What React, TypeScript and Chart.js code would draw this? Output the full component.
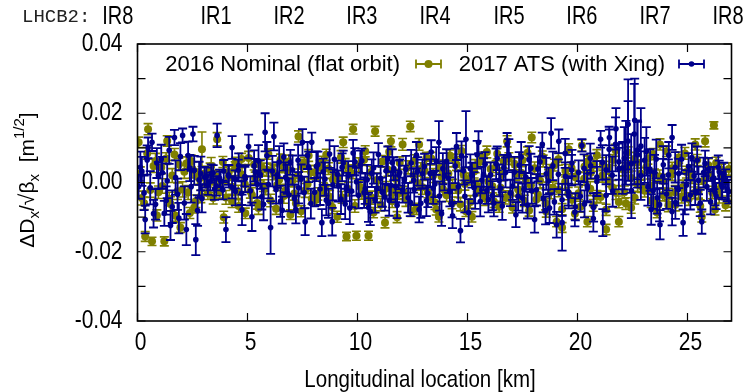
import React, { useEffect, useRef } from "react";
import { Chart, registerables } from "chart.js";
Chart.register(...registerables);

// values are in units of 1e-3 m^(1/2)
const UNIT = 0.001;

// first sweep of BPMs
const BPM_KM = [
  0.05, 0.2, 0.35, 0.48, 0.66, 0.82, 0.95,
  1.08, 1.22, 1.35, 1.5, 1.68, 1.82, 1.95,
  2.05, 2.22, 2.38, 2.52, 2.65, 2.8, 2.93,
  3.05, 3.2, 3.35, 3.5, 3.62, 3.78, 3.92,
  4.02, 4.15, 4.3, 4.45, 4.6, 4.75, 4.9,
  5.05, 5.2, 5.35, 5.5, 5.65, 5.8, 5.95,
  6.05, 6.2, 6.35, 6.5, 6.65, 6.8, 6.95,
  7.05, 7.2, 7.32, 7.5, 7.62, 7.78, 7.92,
  8.05, 8.2, 8.38, 8.52, 8.68, 8.85, 8.95,
  9.08, 9.25, 9.35, 9.5, 9.65, 9.8, 9.95,
  10.05, 10.2, 10.35, 10.5, 10.65, 10.8, 10.95,
  11.05, 11.25, 11.38, 11.52, 11.65, 11.8, 11.92,
  12.05, 12.2, 12.4, 12.55, 12.68, 12.8, 12.95,
  13.05, 13.2, 13.35, 13.52, 13.7, 13.82, 13.95,
  14.05, 14.2, 14.32, 14.5, 14.68, 14.82, 14.93,
  15.05, 15.2, 15.35, 15.5, 15.65, 15.8, 15.95,
  16.05, 16.2, 16.35, 16.5, 16.65, 16.8, 16.95,
  17.05, 17.2, 17.35, 17.5, 17.65, 17.8, 17.92,
  18.05, 18.2, 18.4, 18.55, 18.68, 18.8, 18.95,
  19.05, 19.15, 19.3, 19.45, 19.6, 19.75, 19.9,
  20.05, 20.2, 20.32, 20.45, 20.6, 20.72, 20.88,
  21.05, 21.15, 21.3, 21.45, 21.6, 21.75, 21.88,
  22.05, 22.2, 22.3, 22.45, 22.6, 22.72, 22.88,
  23.05, 23.2, 23.35, 23.5, 23.62, 23.75, 23.9,
  24.05, 24.15, 24.3, 24.45, 24.6, 24.8, 24.95,
  25.05, 25.2, 25.35, 25.5, 25.65, 25.8, 25.95,
  26.05, 26.2, 26.25, 26.4, 26.55, 26.65, 26.8,
];

const DX_2016 = [
  11.6, -4.5, -15.6, 15.4, -17.0, 6.2, -2.8,
  4.3, -17.0, 12.0, -6.2, 8.1, -2.5, -13.0,
  -2.0, 5.5, -8.8, 3.6, -5.4, 1.2, 9.6,
  2.6, -3.1, 4.8, 0.9, 12.5, -1.6, -10.0,
  -4.3, 3.0, -1.2, 5.7, -6.8, 2.3, -8.9,
  7.1, -3.6, 1.4, -7.4, 4.4, -1.8, 8.2,
  -5.2, 2.8, -0.7, 6.6, -3.9, 3.4, -9.3,
  0.6, -6.0, 13.3, 4.9, -2.3, 7.8, -4.7,
  2.9, -3.3, 6.0, -1.0, 4.0, -7.1, 1.8,
  -9.9, 7.4, 11.6, -15.6, 3.2, 15.4, -15.4,
  5.1, -3.0, 9.0, -15.4, -4.4, 14.8, -2.1,
  -6.4, -11.6, 3.7, 11.9, -2.6, -10.0, 5.6,
  11.0, -4.9, 16.2, 2.1, -7.6, 11.0, -1.4,
  3.3, -2.8, 6.9, -5.8, -9.9, 1.7, 4.6,
  -3.7, 7.8, -1.1, 5.2, -6.3, 2.4, -8.3,
  1.0, -9.9, 4.7, -2.0, 7.2, -4.6, 0.3,
  3.9, -5.5, 8.3, -1.5, 5.9, 11.9, -3.4,
  -7.2, 2.5, -3.9, 6.4, 0.8, -8.1, 13.0,
  4.1, -3.5, 7.5, -6.0, 1.9, -2.7, 5.0,
  -11.3, -2.2, -13.0, 3.4, 9.6, -5.0, 1.5,
  -3.1, 10.7, 4.6, -11.3, 2.8, -6.6, 7.9,
  -4.2, 5.3, -13.6, 0.6, 6.5, -2.9, -11.3,
  3.8, -6.1, 8.7, 1.3, -4.4, 5.8, -1.0,
  -2.4, 6.9, -5.3, 2.2, -8.7, 11.0, 0.4,
  9.0, -3.6, 4.1, -6.4, 7.2, -1.3, 3.0,
  -4.8, 1.4, 11.0, -2.5, -9.9, 11.9, 5.0,
  2.2, 16.5, -7.8, -2.1, 3.6, 0.3, -5.5,
];

const ERR_2016 = [
  1.5, 2.0, 1.4, 1.6, 1.2, 2.2, 1.8,
  1.8, 1.3, 1.5, 2.1, 1.7, 2.4, 1.4,
  2.2, 1.9, 1.6, 2.3, 1.8, 2.0, 5.0,
  2.1, 1.8, 2.4, 1.6, 1.9, 2.0, 1.7,
  2.0, 1.7, 2.2, 1.6, 1.8, 2.0, 1.5,
  1.9, 2.1, 1.6, 1.8, 2.3, 1.7, 1.5,
  1.8, 2.0, 1.7, 1.6, 2.1, 1.9, 1.4,
  1.7, 1.9, 1.6, 1.8, 2.0, 1.7, 1.5,
  2.0, 1.8, 1.6, 2.2, 1.7, 1.9, 1.6,
  1.6, 1.8, 1.5, 1.2, 1.9, 1.4, 1.3,
  2.0, 1.8, 1.6, 1.3, 1.9, 1.4, 1.9,
  1.8, 1.5, 1.9, 1.6, 2.1, 1.6, 1.8,
  1.7, 2.0, 1.5, 1.8, 1.6, 1.7, 2.0,
  1.9, 1.6, 1.8, 2.0, 1.5, 1.7, 1.9,
  1.8, 1.6, 2.0, 1.7, 1.9, 1.8, 1.5,
  1.7, 1.5, 1.9, 1.8, 1.6, 2.0, 1.7,
  1.9, 1.7, 1.5, 2.0, 1.8, 1.6, 1.9,
  1.6, 1.9, 1.7, 1.8, 2.0, 1.6, 1.5,
  1.8, 1.7, 1.6, 1.9, 1.8, 2.0, 1.7,
  1.5, 1.9, 1.4, 1.8, 1.6, 1.7, 2.0,
  1.8, 1.6, 1.7, 1.5, 1.9, 1.7, 1.6,
  1.7, 1.9, 1.5, 1.8, 1.6, 2.0, 1.5,
  1.9, 1.7, 1.6, 2.0, 1.8, 1.7, 1.9,
  1.8, 1.6, 1.9, 1.7, 1.5, 1.6, 2.0,
  1.5, 1.9, 1.7, 1.8, 1.6, 2.0, 1.7,
  1.8, 1.7, 1.6, 2.0, 1.5, 1.6, 1.9,
  1.8, 1.0, 1.6, 1.9, 1.7, 1.8, 1.6,
];

const DX_2017 = [
  -1.2, 3.2, -10.7, 10.0, 11.6, -6.3, 2.1,
  6.8, -8.9, 0.5, -12.4, 13.0, -3.4, 7.5,
  13.6, -13.6, 4.2, 14.0, -16.5, 0.8, -4.6,
  1.5, -0.8, 2.6, -1.9, 13.6, 0.4, 3.3,
  -13.6, 1.8, 10.1, -2.6, 4.9, -7.9, 1.1,
  10.4, -9.9, 3.0, 6.2, -4.1, 14.5, -0.6,
  -13.0, 13.3, 2.2, -5.4, 7.4, 0.9, 5.8,
  3.6, -7.8, -1.5, 11.6, -11.3, 4.5, 11.6,
  -2.8, 5.2, -11.6, 1.0, -6.0, -11.3, 6.7,
  2.4, -4.8, 5.6, -1.3, -7.4, 8.5, 0.2,
  -3.7, 6.3, -1.8, -7.2, 2.7, -5.0, 8.1,
  1.2, -4.2, 6.8, -0.9, 4.0, -6.6, 2.9,
  -2.2, 3.8, -5.7, 0.6, 7.9, -7.8, 2.5,
  4.6, -3.1, 8.8, -0.4, 11.6, -9.0, 1.9,
  6.1, -2.7, -9.6, 10.4, -13.9, 3.4, 12.5,
  -8.7, 2.1, -3.6, 11.6, 0.7, 5.3, -4.9,
  2.2, -5.9, 7.0, -1.7, 4.3, 11.0, -3.0,
  -1.0, -9.3, 5.0, -4.5, 1.6, 6.6, -2.4,
  -10.7, 3.9, 11.0, -8.1, 0.4, 14.2, -5.6,
  -12.2, 11.9, -11.6, 1.8, -3.9, 5.6, -7.0,
  2.9, 10.7, -6.2, -1.6, 4.8, -10.4, 0.3,
  12.5, -11.6, 3.7, 13.0, -2.5, 15.5, 6.0,
  4.2, 8.6, 16.8, -2.3, 18.0, 9.4, 2.0,
  6.4, -1.2, -7.8, 3.0, -4.4, -12.2, 5.1,
  -3.3, 7.9, 13.0, -5.8, 2.6, -11.6, -0.8,
  4.6, 7.2, -2.9, 0.6, -11.3, 5.5, 3.8,
  -5.6, 1.3, -2.8, 4.4, -0.7, 2.6, -1.9,
];

const ERR_2017 = [
  3.5, 4.2, 4.0, 3.0, 2.5, 4.4, 3.8,
  4.1, 3.6, 5.0, 4.2, 2.2, 4.5, 3.9,
  2.0, 4.5, 3.8, 2.1, 4.5, 5.2, 4.0,
  3.0, 2.8, 2.6, 3.1, 3.4, 2.7, 3.2,
  3.6, 3.2, 3.3, 4.0, 3.5, 4.4, 3.9,
  3.4, 4.1, 3.8, 4.6, 3.7, 5.5, 4.0,
  7.6, 4.0, 3.7, 4.5, 3.9, 4.2, 3.6,
  4.2, 4.0, 4.5, 3.8, 3.9, 4.4, 2.8,
  4.1, 3.7, 3.9, 4.8, 4.2, 4.0, 3.8,
  3.9, 4.3, 3.6, 4.1, 4.6, 3.8, 4.0,
  3.8, 3.5, 4.4, 4.2, 4.0, 3.7, 3.3,
  3.4, 3.9, 3.6, 4.0, 3.3, 3.7, 3.8,
  3.6, 3.9, 4.0, 3.5, 3.8, 3.7, 4.1,
  3.7, 4.0, 3.4, 3.8, 6.1, 3.5, 4.2,
  3.5, 4.2, 3.6, 3.9, 3.4, 4.0, 8.1,
  3.9, 3.6, 4.0, 3.2, 3.8, 3.5, 3.7,
  3.6, 3.9, 3.4, 4.1, 3.7, 3.3, 3.8,
  4.0, 3.6, 3.8, 4.2, 3.5, 3.9, 3.7,
  3.8, 3.6, 3.4, 4.0, 3.9, 4.4, 3.7,
  3.7, 3.4, 8.1, 4.0, 3.6, 3.8, 3.9,
  3.5, 1.8, 3.9, 4.1, 3.6, 3.8, 4.2,
  2.4, 3.9, 4.2, 2.3, 4.5, 6.0, 5.2,
  7.5, 9.2, 13.0, 8.0, 12.0, 8.5, 7.0,
  6.5, 5.5, 4.4, 5.0, 4.6, 4.2, 5.4,
  4.3, 3.8, 3.6, 4.7, 4.2, 3.8, 4.4,
  3.9, 4.1, 3.6, 4.0, 3.5, 3.7, 3.3,
  3.6, 3.2, 3.8, 3.4, 3.7, 3.1, 3.5,
];

// second sweep of BPMs (interleaved)
const BPM_KM_2 = [
  0.13, 0.3, 0.44, 0.58, 0.73, 0.88,
  1.13, 1.3, 1.44, 1.58, 1.73, 1.88,
  2.13, 2.3, 2.44, 2.58, 2.73, 2.88,
  3.13, 3.3, 3.44, 3.58, 3.73, 3.88,
  4.13, 4.3, 4.44, 4.58, 4.73, 4.88,
  5.13, 5.3, 5.44, 5.58, 5.73, 5.88,
  6.13, 6.3, 6.44, 6.58, 6.73, 6.88,
  7.13, 7.3, 7.44, 7.58, 7.73, 7.88,
  8.13, 8.3, 8.44, 8.58, 8.73, 8.88,
  9.13, 9.3, 9.44, 9.58, 9.73, 9.88,
  10.13, 10.3, 10.44, 10.58, 10.73, 10.88,
  11.13, 11.3, 11.44, 11.58, 11.73, 11.88,
  12.13, 12.3, 12.44, 12.58, 12.73, 12.88,
  13.13, 13.3, 13.44, 13.58, 13.73, 13.88,
  14.13, 14.3, 14.44, 14.58, 14.73, 14.88,
  15.13, 15.3, 15.44, 15.58, 15.73, 15.88,
  16.13, 16.3, 16.44, 16.58, 16.73, 16.88,
  17.13, 17.3, 17.44, 17.58, 17.73, 17.88,
  18.13, 18.3, 18.44, 18.58, 18.73, 18.88,
  19.13, 19.3, 19.44, 19.58, 19.73, 19.88,
  20.13, 20.3, 20.44, 20.58, 20.73, 20.88,
  21.13, 21.3, 21.44, 21.58, 21.73, 21.88,
  22.13, 22.3, 22.44, 22.58, 22.73, 22.88,
  23.13, 23.3, 23.44, 23.58, 23.73, 23.88,
  24.13, 24.3, 24.44, 24.58, 24.73, 24.88,
  25.13, 25.3, 25.44, 25.58, 25.73, 25.88,
  26.13, 26.3, 26.44, 26.58, 26.73, 26.88,
];

const DX_2016_2 = [
  2.5, -6.0, 8.4, -2.2, 4.8, -9.5,
  -1.0, 6.9, -4.7, 2.0, -9.6, 5.2,
  3.1, -2.9, 6.2, -7.2, 1.7, -4.0,
  -0.6, 3.8, -4.5, 1.6, -2.4, 5.9,
  1.4, -5.5, 4.0, -2.7, 6.8, -0.5,
  -2.6, 5.2, -5.9, 2.5, -0.9, 3.7,
  3.5, -7.6, 0.8, 4.9, -2.4, 6.1,
  -3.2, 2.1, -8.3, 5.6, -0.4, 3.0,
  -5.0, 4.5, -2.0, 8.0, -4.1, 0.9,
  1.6, -4.3, 5.0, -1.9, 2.7, -6.8,
  -1.3, 6.6, -5.7, 2.9, -8.7, 0.7,
  6.1, -1.7, 8.9, -5.4, 1.1, -3.2,
  -2.9, 4.4, -8.2, 6.3, -0.2, 3.9,
  7.0, -4.1, 2.0, -7.8, 4.2, -1.9,
  2.6, -5.9, 6.4, -2.3, 9.1, -0.4,
  -5.6, 3.2, -1.0, 6.0, -3.4, 8.8,
  -1.1, 4.6, -7.0, 2.4, -4.3, 6.9,
  5.4, -2.0, 2.8, -5.3, 8.6, -0.8,
  -4.9, 0.5, 6.2, -8.4, 3.3, -1.6,
  6.7, -7.7, 0.2, -3.2, 4.2, -9.0,
  -7.0, 1.1, 6.0, -1.8, 5.0, -4.0,
  2.0, -7.9, 4.3, -1.4, 9.3, -5.6,
  -2.8, 4.6, -7.3, 6.8, -0.6, 2.5,
  4.4, -0.9, 8.2, -6.0, 1.7, -3.6,
  -6.6, 2.3, -2.8, 5.5, -4.1, 8.4,
  3.2, -3.0, 6.5, -6.8, 0.5, 2.8,
  -2.9, 5.6, -4.0, 1.1, -6.6, 3.9,
];

const ERR_2016_2 = [
  2.0, 1.8, 1.7, 2.1, 1.9, 1.6,
  2.1, 1.7, 1.9, 2.0, 1.6, 1.8,
  1.9, 2.0, 1.7, 1.6, 2.2, 1.8,
  2.0, 1.8, 1.7, 1.9, 2.1, 1.6,
  1.8, 1.7, 2.0, 1.9, 1.6, 2.1,
  1.9, 1.6, 1.8, 2.0, 1.7, 1.9,
  1.8, 1.6, 2.0, 1.7, 1.9, 1.8,
  1.9, 1.8, 1.6, 1.7, 2.0, 1.9,
  1.7, 1.9, 2.0, 1.6, 1.8, 1.9,
  1.8, 1.7, 1.9, 2.0, 1.6, 1.8,
  1.9, 1.7, 1.6, 1.8, 1.5, 2.0,
  1.7, 2.0, 1.6, 1.8, 1.9, 1.7,
  1.8, 1.9, 1.6, 1.7, 2.0, 1.8,
  1.7, 1.8, 2.0, 1.6, 1.9, 1.7,
  1.9, 1.7, 1.8, 2.0, 1.6, 1.8,
  1.8, 1.9, 1.7, 1.6, 2.0, 1.7,
  1.9, 1.7, 1.6, 1.8, 1.9, 1.7,
  1.7, 1.9, 1.8, 1.6, 1.7, 2.0,
  1.8, 2.0, 1.7, 1.6, 1.9, 1.8,
  1.7, 1.6, 2.0, 1.8, 1.7, 1.6,
  1.6, 1.9, 1.7, 2.0, 1.8, 1.7,
  1.9, 1.6, 1.8, 2.0, 1.7, 1.7,
  1.8, 1.7, 1.6, 1.9, 2.0, 1.8,
  1.7, 1.9, 1.6, 1.8, 1.9, 1.7,
  1.8, 1.7, 1.9, 1.6, 1.8, 1.7,
  1.9, 1.7, 1.6, 1.8, 2.0, 1.7,
  1.8, 1.7, 1.9, 1.7, 1.6, 1.8,
];

const DX_2017_2 = [
  4.4, -3.0, 6.5, -1.5, -9.0, 5.6,
  2.8, -5.2, 9.3, -7.0, 1.4, -10.3,
  -5.9, 7.8, -1.2, 3.5, -8.1, 2.6,
  1.9, 0.3, 2.8, -1.0, 1.2, -2.2,
  2.2, -1.4, 0.9, 3.6, -3.1, 1.7,
  -2.4, 4.8, -0.5, 2.3, -6.3, 7.7,
  3.3, -2.0, 5.9, -8.0, 1.5, -3.6,
  -4.6, 6.4, 1.0, -2.9, 7.8, -6.1,
  4.7, -1.9, 3.1, -5.1, 8.2, -0.7,
  -1.0, 4.4, -6.2, 2.0, -2.5, 6.0,
  5.1, -2.9, 0.8, -8.4, 4.2, -1.6,
  -2.8, 3.4, -5.2, 5.8, -1.1, 2.2,
  0.9, -4.4, 5.6, -2.0, 3.2, -6.0,
  -5.3, 2.6, -1.6, 6.2, -3.9, 4.0,
  1.3, -6.1, 4.8, -1.2, 7.7, -4.0,
  4.0, -1.5, 8.0, -5.5, 2.4, -2.3,
  -3.8, 5.4, 0.6, -6.8, 2.9, 8.0,
  3.0, -4.0, 7.4, -1.9, -6.5, 4.1,
  -2.1, 6.0, -4.6, 2.5, -7.4, 4.8,
  2.4, -5.0, 8.4, -2.7, 3.6, -8.6,
  -4.0, 4.1, -0.9, 7.0, -7.2, 1.6,
  5.8, -3.7, 9.6, 2.1, 11.0, 4.0,
  7.0, 12.0, 5.5, 14.0, 8.0, 10.5,
  9.0, 3.6, -2.4, 6.8, -6.4, 1.8,
  2.2, -8.4, 4.4, -2.0, 6.7, -4.6,
  -3.6, 1.9, 6.4, -5.9, 2.9, -1.2,
  1.0, -3.9, 3.1, -1.3, 0.5, -2.6,
];

const ERR_2017_2 = [
  4.5, 5.0, 4.2, 4.8, 4.0, 4.3,
  4.6, 4.1, 3.9, 4.7, 5.0, 4.4,
  4.8, 4.0, 4.6, 4.2, 4.4, 4.9,
  2.4, 2.6, 2.2, 2.8, 2.5, 2.7,
  2.9, 3.2, 2.6, 3.0, 3.4, 2.8,
  4.2, 4.5, 3.9, 4.1, 4.6, 4.0,
  4.4, 4.1, 4.6, 3.9, 4.3, 4.7,
  4.0, 4.5, 4.2, 4.6, 3.9, 4.3,
  4.3, 4.6, 3.8, 4.4, 4.0, 4.5,
  4.5, 4.0, 4.4, 4.2, 4.6, 3.9,
  4.1, 4.4, 4.3, 3.9, 4.5, 4.2,
  4.2, 4.0, 4.4, 3.8, 4.6, 4.1,
  4.0, 4.3, 3.8, 4.5, 4.1, 4.2,
  4.4, 4.1, 4.6, 4.0, 4.2, 4.5,
  4.3, 4.0, 5.0, 4.4, 4.2, 4.6,
  4.1, 4.5, 4.0, 4.3, 4.6, 3.9,
  4.2, 4.4, 4.6, 4.0, 4.3, 4.5,
  4.4, 4.1, 4.3, 4.6, 3.9, 4.2,
  4.5, 4.2, 4.0, 4.6, 4.3, 4.1,
  4.3, 4.6, 4.2, 4.0, 4.4, 4.1,
  4.4, 4.0, 4.5, 4.2, 4.1, 4.6,
  5.0, 4.6, 6.5, 5.4, 7.8, 6.0,
  9.0, 11.5, 8.5, 14.5, 9.5, 11.0,
  7.0, 6.0, 5.2, 5.6, 4.8, 5.0,
  4.5, 4.0, 4.4, 4.7, 4.2, 4.6,
  4.2, 4.4, 4.0, 3.8, 4.3, 4.1,
  3.5, 3.8, 3.2, 3.6, 3.3, 3.4,
];

const SERIES_NAMES = ["2016 Nominal (flat orbit)", "2017 ATS (with Xing)"];
const SERIES_COLORS = ["#808000", "#00008b"];

const X_TICKS = [0, 5, 10, 15, 20, 25];
const Y_TICKS = [-0.04, -0.02, 0, 0.02, 0.04];
const Y_MINOR = [-0.04, -0.03, -0.02, -0.01, 0, 0.01, 0.02, 0.03, 0.04];

const IR_NAMES = ["IR8", "IR1", "IR2", "IR3", "IR4", "IR5", "IR6", "IR7", "IR8"];
const IR_KM = [-0.9, 3.57, 6.89, 10.2, 13.52, 16.89, 20.2, 23.52, 26.84];

const SANS = "'Liberation Sans', Arial, sans-serif";

function stretchText(ctx: CanvasRenderingContext2D, t: string, x: number, y: number, sy: number) {
  ctx.save();
  ctx.translate(x, y);
  ctx.scale(1, sy);
  ctx.fillText(t, 0, 0);
  ctx.restore();
}

const errorBarPlugin = {
  id: "errorBars",
  beforeDatasetDraw(chart: any, args: any) {
    const ds = chart.data.datasets[args.index];
    const errs: number[] = ds.errors;
    if (!errs) return;
    const y = chart.scales.y;
    const ctx = chart.ctx;
    const area = chart.chartArea;
    ctx.save();
    ctx.beginPath();
    ctx.rect(area.left, area.top, area.right - area.left, area.bottom - area.top);
    ctx.clip();
    ctx.strokeStyle = ds.borderColor;
    ctx.lineWidth = ds.barWidth;
    const cap = 4.5;
    args.meta.data.forEach((el: any, i: number) => {
      const v = ds.data[i].y;
      const top = y.getPixelForValue(v + errs[i]);
      const bot = y.getPixelForValue(v - errs[i]);
      ctx.beginPath();
      ctx.moveTo(el.x, top);
      ctx.lineTo(el.x, bot);
      ctx.moveTo(el.x - cap, top);
      ctx.lineTo(el.x + cap, top);
      ctx.moveTo(el.x - cap, bot);
      ctx.lineTo(el.x + cap, bot);
      ctx.stroke();
    });
    ctx.restore();
  },
};

const decorPlugin = {
  id: "decor",
  afterDraw(chart: any) {
    const ctx = chart.ctx as CanvasRenderingContext2D;
    const a = chart.chartArea;
    const xs = chart.scales.x;
    const ys = chart.scales.y;
    ctx.save();
    // frame
    ctx.strokeStyle = "#000";
    ctx.lineWidth = 1.6;
    ctx.strokeRect(a.left, a.top, a.right - a.left, a.bottom - a.top);
    // inward ticks
    ctx.lineWidth = 1.2;
    const tl = 8;
    ctx.beginPath();
    Y_MINOR.forEach((v) => {
      const p = ys.getPixelForValue(v);
      ctx.moveTo(a.left, p);
      ctx.lineTo(a.left + tl, p);
      ctx.moveTo(a.right, p);
      ctx.lineTo(a.right - tl, p);
    });
    X_TICKS.forEach((v) => {
      const p = xs.getPixelForValue(v);
      ctx.moveTo(p, a.bottom);
      ctx.lineTo(p, a.bottom - tl);
      ctx.moveTo(p, a.top);
      ctx.lineTo(p, a.top + tl);
    });
    ctx.stroke();

    ctx.fillStyle = "#000";
    // tick labels
    ctx.font = `21px ${SANS}`;
    ctx.textBaseline = "middle";
    ctx.textAlign = "right";
    Y_TICKS.forEach((v) => {
      const s = Math.abs(v) < 1e-9 ? "0.00" : v.toFixed(2);
      stretchText(ctx, s, a.left - 15, ys.getPixelForValue(v), 1.2);
    });
    ctx.textAlign = "center";
    X_TICKS.forEach((v) => {
      stretchText(ctx, String(v), xs.getPixelForValue(v) + 3, a.bottom + 22, 1.2);
    });

    // x title
    ctx.font = `20.5px ${SANS}`;
    ctx.textAlign = "center";
    ctx.textBaseline = "alphabetic";
    stretchText(ctx, "Longitudinal location [km]", 420, 387, 1.15);

    // top labels
    ctx.font = `19px 'Liberation Mono', 'DejaVu Sans Mono', monospace`;
    ctx.textAlign = "left";
    ctx.fillStyle = "#222";
    ctx.fillText("LHCB2:", 22, 22);
    ctx.fillStyle = "#000";
    ctx.font = `20px ${SANS}`;
    ctx.textAlign = "center";
    IR_NAMES.forEach((n, i) => {
      stretchText(ctx, n, xs.getPixelForValue(IR_KM[i]), 24, 1.3);
    });

    // y title
    ctx.save();
    ctx.translate(34, 180);
    ctx.rotate(-Math.PI / 2);
    const parts = [
      { t: "\u0394D", s: 21, dy: 0 },
      { t: "x", s: 15, dy: 5 },
      { t: "/\u221A\u03B2", s: 21, dy: 0 },
      { t: "x", s: 15, dy: 5 },
      { t: "  [m", s: 21, dy: 0 },
      { t: "1/2", s: 15, dy: -10 },
      { t: "]", s: 21, dy: 0 },
    ];
    let total = 0;
    parts.forEach((p) => {
      ctx.font = `${p.s}px ${SANS}`;
      total += ctx.measureText(p.t).width;
    });
    let cx = -total / 2;
    ctx.textAlign = "left";
    parts.forEach((p) => {
      ctx.font = `${p.s}px ${SANS}`;
      ctx.fillText(p.t, cx, p.dy);
      cx += ctx.measureText(p.t).width;
    });
    ctx.restore();

    // legend
    const legendY = 64;
    const entries = [
      { textRight: 400, s0: 416, s1: 441, r: 4 },
      { textRight: 665, s0: 679, s1: 704, r: 2.8 },
    ];
    entries.forEach((e, i) => {
      ctx.font = `22px ${SANS}`;
      ctx.textAlign = "right";
      ctx.textBaseline = "middle";
      ctx.fillStyle = "#000";
      ctx.fillText(SERIES_NAMES[i], e.textRight, legendY + 1);
      ctx.strokeStyle = SERIES_COLORS[i];
      ctx.fillStyle = SERIES_COLORS[i];
      ctx.lineWidth = 1.8;
      ctx.beginPath();
      ctx.moveTo(e.s0, legendY);
      ctx.lineTo(e.s1, legendY);
      ctx.moveTo(e.s0, legendY - 4.5);
      ctx.lineTo(e.s0, legendY + 4.5);
      ctx.moveTo(e.s1, legendY - 4.5);
      ctx.lineTo(e.s1, legendY + 4.5);
      ctx.stroke();
      ctx.beginPath();
      ctx.arc((e.s0 + e.s1) / 2, legendY, e.r, 0, Math.PI * 2);
      ctx.fill();
    });
    ctx.restore();
  },
};

export default function App() {
  const ref = useRef<HTMLCanvasElement | null>(null);
  useEffect(() => {
    if (!ref.current) return;
    const mk = (xs: number[], vals: number[]) => xs.map((x, i) => ({ x, y: vals[i] * UNIT }));
    const data2016 = [...mk(BPM_KM, DX_2016), ...mk(BPM_KM_2, DX_2016_2)];
    const data2017 = [...mk(BPM_KM, DX_2017), ...mk(BPM_KM_2, DX_2017_2)];
    const err2016 = [...ERR_2016, ...ERR_2016_2].map((e) => e * UNIT);
    const err2017 = [...ERR_2017, ...ERR_2017_2].map((e) => e * UNIT);
    const chart = new Chart(ref.current, {
      type: "scatter",
      data: {
        datasets: [
          {
            label: SERIES_NAMES[0],
            data: data2016,
            errors: err2016,
            barWidth: 1.6,
            borderColor: SERIES_COLORS[0],
            backgroundColor: SERIES_COLORS[0],
            pointRadius: 4,
            pointBorderWidth: 0,
            order: 2,
          } as any,
          {
            label: SERIES_NAMES[1],
            data: data2017,
            errors: err2017,
            barWidth: 1.8,
            borderColor: SERIES_COLORS[1],
            backgroundColor: SERIES_COLORS[1],
            pointRadius: 2.8,
            pointBorderWidth: 0,
            order: 1,
          } as any,
        ],
      },
      options: {
        responsive: false,
        animation: false,
        events: [],
        layout: { padding: { top: 44, right: 11.5, left: 0, bottom: 0 } },
        plugins: { legend: { display: false }, tooltip: { enabled: false } },
        scales: {
          x: {
            type: "linear",
            min: 0,
            max: 27,
            grid: { display: false },
            border: { display: false },
            ticks: { display: false },
            afterBuildTicks: (s: any) => {
              s.ticks = X_TICKS.map((v) => ({ value: v }));
            },
            afterFit: (s: any) => {
              s.height = 71;
            },
          },
          y: {
            type: "linear",
            min: -0.04,
            max: 0.04,
            grid: { display: false },
            border: { display: false },
            ticks: { display: false },
            afterBuildTicks: (s: any) => {
              s.ticks = Y_TICKS.map((v) => ({ value: v }));
            },
            afterFit: (s: any) => {
              s.width = 137.5;
            },
          },
        },
      } as any,
      plugins: [errorBarPlugin, decorPlugin],
    });
    return () => chart.destroy();
  }, []);
  return (
    <div style={{ position: "absolute", left: 0, top: 0, width: 743, height: 392, background: "#fff" }}>
      <canvas ref={ref} width={743} height={392} style={{ display: "block" }} />
    </div>
  );
}
